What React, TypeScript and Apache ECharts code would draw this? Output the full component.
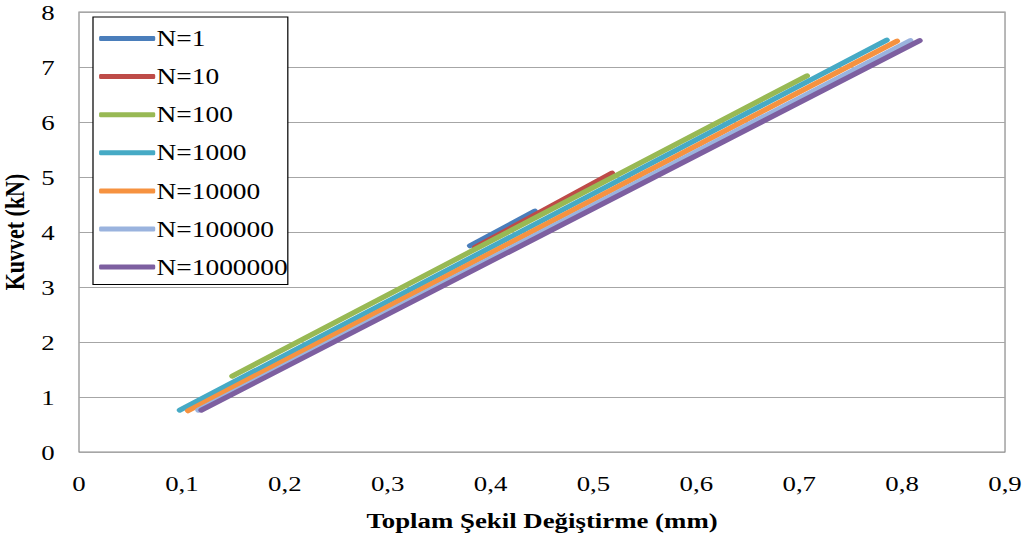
import React, { useEffect, useRef } from "react";
import * as echarts from "echarts";

const seriesNames = ["N=1", "N=10", "N=100", "N=1000", "N=10000", "N=100000", "N=1000000"];
const colors = ["#4A7EBB", "#BE4B48", "#98B954", "#46AAC5", "#F69240", "#9AB3DE", "#7D5FA0"];

// [deformation (mm), force (kN)] start and end points
const n1: number[][] = [[0.38, 3.75], [0.443, 4.38]];
const n10: number[][] = [[0.385, 3.72], [0.518, 5.07]];
const n100: number[][] = [[0.149, 1.38], [0.7075, 6.84]];
const n1000: number[][] = [[0.098, 0.76], [0.785, 7.49]];
const n10000: number[][] = [[0.106, 0.75], [0.795, 7.47]];
const n100000: number[][] = [[0.116, 0.76], [0.808, 7.48]];
const n1000000: number[][] = [[0.119, 0.76], [0.817, 7.48]];

const allData = [n1, n10, n100, n1000, n10000, n100000, n1000000];

const xTitle = "Toplam Şekil Değiştirme (mm)";
const yTitle = "Kuvvet (kN)";

const FONT = "'Liberation Serif', 'Times New Roman', serif";
const W = 1026;
const H = 539;
const SX = 1.22; // the reference is drawn horizontally stretched
const CW = W / SX;

export default function App() {
  const ref = useRef<HTMLDivElement>(null);
  useEffect(() => {
    if (!ref.current) return;
    const chart = echarts.init(ref.current, undefined, { renderer: "svg" });
    chart.setOption({
      animation: false,
      backgroundColor: "#fff",
      textStyle: { fontFamily: FONT },
      grid: {
        left: 79 / SX,
        right: 21 / SX,
        top: 12,
        bottom: 87,
        containLabel: false,
        outerBoundsMode: "none",
        show: true,
        borderColor: "#8c8c8c",
        borderWidth: 1,
      },
      legend: {
        orient: "vertical",
        left: 93 / SX,
        top: 17,
        backgroundColor: "#fff",
        borderColor: "#000",
        borderWidth: 1,
        padding: [10, 0, 6, 5],
        itemWidth: 46,
        itemHeight: 5,
        itemGap: 15.1,
        icon: "roundRect",
        textStyle: { fontFamily: FONT, fontSize: 22.5, color: "#000", padding: [0, 0, 0, -4] },
        data: seriesNames,
      },
      xAxis: {
        type: "value",
        min: 0,
        max: 0.9,
        interval: 0.1,
        name: xTitle,
        nameLocation: "middle",
        nameGap: 57,
        nameTextStyle: { fontFamily: FONT, fontSize: 22, fontWeight: "bold", color: "#000" },
        axisLine: { show: false },
        axisTick: { show: false },
        splitLine: { show: false },
        axisLabel: {
          fontFamily: FONT,
          fontSize: 22,
          color: "#000",
          margin: 20,
          formatter: (v: number) => String(Math.round(v * 10) / 10).replace(".", ","),
        },
      },
      yAxis: {
        type: "value",
        min: 0,
        max: 8,
        interval: 1,
        name: yTitle,
        nameLocation: "middle",
        nameGap: 38,
        nameRotate: 90,
        nameTextStyle: { fontFamily: FONT, fontSize: 22, fontWeight: "bold", color: "#000" },
        axisLine: { show: false },
        axisTick: { show: false },
        splitLine: { show: true, lineStyle: { color: "#a6a6a6", width: 1 } },
        axisLabel: { fontFamily: FONT, fontSize: 22, color: "#000", margin: 20 },
      },
      series: seriesNames.map((name, i) => ({
        name,
        type: "line",
        data: allData[i],
        showSymbol: false,
        symbol: "none",
        color: colors[i],
        lineStyle: { width: 5, color: colors[i], cap: "round" },
      })),
    });
    return () => chart.dispose();
  }, []);
  return (
    <div
      ref={ref}
      style={{
        position: "absolute",
        left: 0,
        top: 0,
        width: CW,
        height: H,
        transform: `scaleX(${SX})`,
        transformOrigin: "0 0",
      }}
    />
  );
}
